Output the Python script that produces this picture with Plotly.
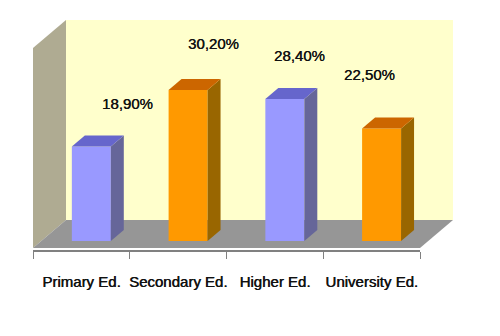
import plotly.graph_objects as go

categories = ["Primary Ed.", "Secondary Ed.", "Higher Ed.", "University Ed."]
values = [18.9, 30.2, 28.4, 22.5]
value_labels = ["18,90%", "30,20%", "28,40%", "22,50%"]

# The page body adds an 8px margin, so the figure is 8px smaller than the window.
PAGE_W, PAGE_H, BODY = 500, 336, 8
W, H = PAGE_W - BODY, PAGE_H - BODY
FONT = "Liberation Sans"
FRONT = ["#9999FF", "#FF9900", "#9999FF", "#FF9900"]
SIDE = ["#666699", "#996600", "#666699", "#996600"]
TOP = ["#6666CC", "#CC6600", "#6666CC", "#CC6600"]

# axis geometry
BAR_SHIFT, BAR_W = 0.103, 0.403
DEPTH_X, DEPTH_Y = 0.134, 2.2
LABEL_DX = [0.377, 0.264, 0.155, -0.124]
LABEL_DY = [8.6, 9.4, 8.8, 10.8]

def px(x, y):
    return (x - BODY) / W, 1 - (y - BODY) / H

def poly(points, fill):
    path = "M " + " L ".join(f"{a:.5f},{b:.5f}" for a, b in (px(*p) for p in points)) + " Z"
    return dict(type="path", path=path, xref="paper", yref="paper", fillcolor=fill,
                line=dict(width=0), layer="below")

shapes = [
    poly([(66, 20), (453, 20), (453, 220), (66, 220)], "#FFFFCC"),
    poly([(33, 48), (66, 20), (66, 220), (33, 248)], "#AFAB92"),
    poly([(33, 248), (66, 220), (453, 220), (420, 248)], "#969696"),
]

fig = go.Figure()
xs = [i + BAR_SHIFT for i in range(len(values))]
fig.add_trace(go.Bar(x=xs, y=values, width=BAR_W, marker=dict(color=FRONT, line=dict(width=0)),
                     hoverinfo="skip"))

for x, v, side, top in zip(xs, values, SIDE, TOP):
    l, r = x - BAR_W / 2, x + BAR_W / 2
    fig.add_trace(go.Scatter(
        x=[r, r + DEPTH_X, r + DEPTH_X, r, r], y=[0, DEPTH_Y, v + DEPTH_Y, v, 0],
        mode="lines", fill="toself", fillcolor=side, line=dict(width=0), hoverinfo="skip"))
    fig.add_trace(go.Scatter(
        x=[l, l + DEPTH_X, r + DEPTH_X, r, l], y=[v, v + DEPTH_Y, v + DEPTH_Y, v, v],
        mode="lines", fill="toself", fillcolor=top, line=dict(width=0), hoverinfo="skip"))

annotations = [
    dict(x=x + dx, y=v + dy, text=t, showarrow=False, xanchor="center", yanchor="middle",
         font=dict(family=FONT, size=15, color="#111111", shadow="0.3px 0 0 #111111"))
    for x, v, t, dx, dy in zip(xs, values, value_labels, LABEL_DX, LABEL_DY)
]

fig.update_layout(
    width=W, height=H, autosize=False,
    margin=dict(l=0, r=0, t=0, b=0, pad=0),
    paper_bgcolor="white", plot_bgcolor="rgba(0,0,0,0)",
    showlegend=False, shapes=shapes, annotations=annotations,
    xaxis=dict(
        domain=[(33 - BODY) / W, (420 - BODY) / W], range=[-0.5, 3.5],
        tickmode="array", tickvals=list(range(4)), ticktext=categories, ticks="",
        ticklabelstandoff=17,
        tickfont=dict(family=FONT, size=15, color="#111111", shadow="0.5px 0 0 #111111"),
        showgrid=False, zeroline=False, showline=True, linecolor="#808080", linewidth=2,
        minor=dict(tickmode="array", tickvals=[-0.5, 0.5, 1.5, 2.5, 3.5], ticks="outside",
                   ticklen=7, tickwidth=1, tickcolor="#808080", showgrid=False),
    ),
    yaxis=dict(domain=[(PAGE_H - 250) / H, 1], range=[-1.8, 48.2 - 8 / 5], visible=False),
)
fig.write_html("out.html")
